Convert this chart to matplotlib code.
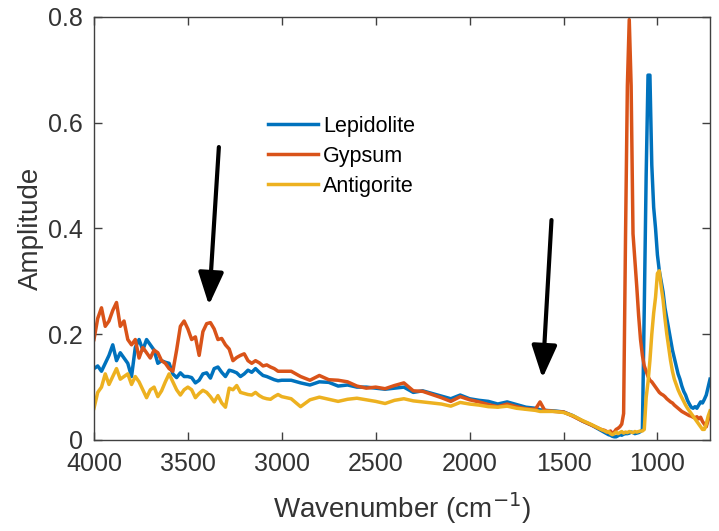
import numpy as np
import matplotlib
matplotlib.use("Agg")
import matplotlib.pyplot as plt

plt.rcParams['font.family'] = ['Liberation Sans', 'DejaVu Sans']

# wavenumber grid (cm^-1), shared by the three spectra
wavenumber = [
    4000, 3980, 3960, 3940, 3920, 3900, 3880, 3860, 3840, 3820,
    3800, 3780, 3760, 3740, 3720, 3700, 3680, 3660, 3640, 3620,
    3600, 3580, 3560, 3540, 3520, 3500, 3480, 3460, 3440, 3420,
    3400, 3380, 3360, 3340, 3320, 3300, 3280, 3260, 3240, 3220,
    3200, 3180, 3160, 3140, 3120, 3100, 3080, 3060, 3040, 3020,
    3000,
    2950, 2900, 2850, 2800, 2750, 2700, 2650, 2600, 2550, 2500,
    2450, 2400, 2350, 2300, 2250, 2200, 2150, 2100, 2050, 2000,
    1950, 1900, 1850, 1800, 1750, 1700, 1650, 1625, 1600, 1550,
    1500, 1450, 1400, 1350, 1300,
    1280, 1270, 1260, 1250, 1240, 1230, 1220, 1210, 1200, 1190,
    1180, 1170, 1160, 1150, 1140, 1130, 1120, 1110, 1100, 1090,
    1080, 1070, 1060, 1050, 1040, 1030, 1020, 1010, 1000, 990,
    980, 970, 960, 950, 940, 930, 920, 910, 900, 890,
    880, 870, 860, 850, 840, 830, 820, 810, 800, 790,
    780, 770, 760, 750, 740, 730, 720,
]

lepidolite = [
    0.135, 0.14, 0.13, 0.145, 0.16, 0.18, 0.15, 0.165, 0.155, 0.145,
    0.12, 0.175, 0.19, 0.17, 0.19, 0.18, 0.17, 0.145, 0.15, 0.147,
    0.145, 0.125, 0.118, 0.127, 0.12, 0.12, 0.118, 0.108, 0.113, 0.125,
    0.127, 0.117, 0.135, 0.138, 0.128, 0.12, 0.132, 0.13, 0.127, 0.12,
    0.125, 0.132, 0.128, 0.135, 0.128, 0.122, 0.12, 0.117, 0.114, 0.112,
    0.113,
    0.113, 0.108, 0.104, 0.11, 0.109, 0.102, 0.104, 0.1, 0.1, 0.098,
    0.096, 0.098, 0.1, 0.09, 0.093, 0.088, 0.083, 0.078, 0.085, 0.078,
    0.075, 0.073, 0.068, 0.072, 0.067, 0.062, 0.06, 0.057, 0.056, 0.055,
    0.053, 0.046, 0.036, 0.028, 0.018,
    0.014, 0.012, 0.01, 0.009, 0.007, 0.006, 0.006, 0.008, 0.01, 0.009,
    0.011, 0.012, 0.012, 0.013, 0.015, 0.014, 0.012, 0.013, 0.014, 0.016,
    0.02, 0.25, 0.50, 0.69, 0.69, 0.52, 0.44, 0.40, 0.35, 0.32,
    0.30, 0.28, 0.25, 0.23, 0.21, 0.19, 0.17, 0.155, 0.14, 0.125,
    0.115, 0.102, 0.092, 0.085, 0.075, 0.068, 0.062, 0.06, 0.063, 0.06,
    0.066, 0.072, 0.07, 0.077, 0.085, 0.1, 0.115,
]

gypsum = [
    0.19, 0.23, 0.25, 0.215, 0.225, 0.245, 0.26, 0.215, 0.225, 0.19,
    0.18, 0.19, 0.155, 0.175, 0.165, 0.155, 0.17, 0.165, 0.15, 0.145,
    0.135, 0.13, 0.17, 0.215, 0.225, 0.21, 0.19, 0.195, 0.16, 0.205,
    0.22, 0.222, 0.21, 0.19, 0.192, 0.18, 0.172, 0.15, 0.156, 0.16,
    0.163, 0.15, 0.145, 0.15, 0.146, 0.14, 0.142, 0.138, 0.135, 0.13,
    0.13,
    0.13, 0.12, 0.113, 0.122, 0.114, 0.113, 0.11, 0.102, 0.098, 0.1,
    0.097, 0.103, 0.108, 0.093, 0.092, 0.086, 0.08, 0.073, 0.082, 0.076,
    0.072, 0.067, 0.063, 0.068, 0.063, 0.059, 0.058, 0.072, 0.056, 0.054,
    0.053, 0.045, 0.036, 0.028, 0.02,
    0.018, 0.016, 0.014, 0.017, 0.012, 0.015, 0.02, 0.022, 0.025, 0.03,
    0.05, 0.38, 0.67, 0.795, 0.67, 0.39, 0.34, 0.29, 0.235, 0.19,
    0.16, 0.14, 0.13, 0.12, 0.113, 0.11, 0.105, 0.1, 0.095, 0.09,
    0.087, 0.085, 0.082, 0.078, 0.075, 0.072, 0.07, 0.066, 0.063, 0.06,
    0.057, 0.054, 0.052, 0.05, 0.048, 0.046, 0.045, 0.043, 0.042, 0.044,
    0.04, 0.043, 0.035, 0.03, 0.025, 0.038, 0.045,
]

antigorite = [
    0.06, 0.09, 0.1, 0.125, 0.105, 0.12, 0.135, 0.115, 0.12, 0.125,
    0.105, 0.12, 0.11, 0.095, 0.08, 0.095, 0.1, 0.082, 0.093, 0.11,
    0.125, 0.11, 0.095, 0.085, 0.095, 0.1, 0.095, 0.08, 0.088, 0.094,
    0.09, 0.082, 0.072, 0.084, 0.07, 0.062, 0.098, 0.095, 0.103, 0.09,
    0.088, 0.086, 0.085, 0.09, 0.084, 0.08, 0.078, 0.077, 0.082, 0.086,
    0.082,
    0.078, 0.063, 0.076, 0.081, 0.077, 0.073, 0.077, 0.079, 0.076, 0.073,
    0.069, 0.075, 0.078, 0.074, 0.072, 0.07, 0.068, 0.064, 0.071, 0.068,
    0.066, 0.063, 0.062, 0.064, 0.06, 0.058, 0.056, 0.054, 0.054, 0.054,
    0.052, 0.046, 0.037, 0.029, 0.02,
    0.017, 0.015, 0.016, 0.012, 0.01, 0.012, 0.015, 0.012, 0.014, 0.016,
    0.013, 0.015, 0.014, 0.016, 0.015, 0.014, 0.016, 0.015, 0.016, 0.017,
    0.017, 0.02, 0.08, 0.11, 0.15, 0.2, 0.24, 0.27, 0.315, 0.32,
    0.29, 0.265, 0.23, 0.2, 0.175, 0.15, 0.13, 0.115, 0.105, 0.095,
    0.087, 0.08, 0.073, 0.066, 0.06, 0.055, 0.05, 0.045, 0.04, 0.035,
    0.03, 0.025, 0.02, 0.02, 0.03, 0.045, 0.055,
]

series_names = ['Lepidolite', 'Gypsum', 'Antigorite']
series_colors = ['#0072BD', '#D95319', '#EDB120']

xticks = [4000, 3500, 3000, 2500, 2000, 1500, 1000]
yticks = [0, 0.2, 0.4, 0.6, 0.8]
ytick_labels = ['0', '0.2', '0.4', '0.6', '0.8']

fig = plt.figure(figsize=(7.19, 5.31), dpi=100)
ax = fig.add_axes([0.1307, 0.1714, 0.8568, 0.7966])

for ys, name, col in zip([lepidolite, gypsum, antigorite], series_names, series_colors):
    ax.plot(wavenumber, ys, color=col, lw=2.5, label=name)

ax.set_xlim(4000, 720)
ax.set_ylim(0, 0.8)
ax.set_xticks(xticks)
ax.set_yticks(yticks)
ax.set_yticklabels(ytick_labels)
ax.tick_params(direction='in', top=True, right=True, length=6, width=1,
               colors='#404040', labelsize=18, labelcolor='#333333')
ax.tick_params(axis='x', pad=9)
ax.tick_params(axis='y', pad=8)
for s in ax.spines.values():
    s.set_color('#404040')
    s.set_linewidth(1)

ax.set_xlabel('Wavenumber (cm$^{-1}$)', fontsize=20, color='#333333', labelpad=10)
ax.set_ylabel('Amplitude', fontsize=20, color='#333333', labelpad=3)

ax.legend(loc='upper left', bbox_to_anchor=(0.373, 0.782), bbox_transform=fig.transFigure,
          frameon=False, fontsize=15.5, handlelength=2.3, handletextpad=0.25,
          labelspacing=0.42, borderpad=0, borderaxespad=0)

# arrows pointing at the weak bands
arw = dict(arrowstyle='-|>,head_length=0.9,head_width=0.35', color='black',
           lw=3, mutation_scale=22, shrinkA=0, shrinkB=0)
ax.annotate('', xy=(3388, 0.255), xytext=(3335, 0.554), arrowprops=arw)
ax.annotate('', xy=(1612, 0.117), xytext=(1564, 0.416), arrowprops=arw)

fig.savefig('out.png', dpi=100)
